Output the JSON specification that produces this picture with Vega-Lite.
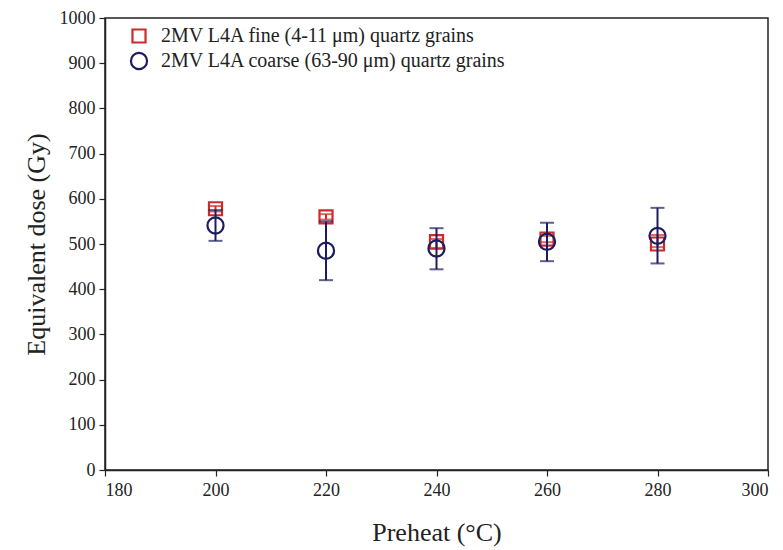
{
  "$schema": "https://vega.github.io/schema/vega-lite/v6.json",
  "autosize": "none",
  "width": 663,
  "height": 452,
  "padding": {"left": 105, "top": 18, "right": 15, "bottom": 80},
  "background": "white",
  "config": {
    "font": "Liberation Serif",
    "view": {"stroke": "#222", "strokeWidth": 1.5},
    "axis": {"grid": false, "domainColor": "#222", "domainWidth": 1.5, "tickColor": "#222", "tickWidth": 1.2, "tickSize": 6, "labelFont": "Liberation Serif", "labelFontSize": 18, "labelColor": "#222", "titleFont": "Liberation Serif", "titleFontSize": 26, "titleFontWeight": "normal", "titleColor": "#222"}
  },
  "data": {"values": [
    {"preheat": 200, "series": "2MV L4A fine (4-11 μm) quartz grains", "de": 578, "lo": 572, "hi": 584},
    {"preheat": 220, "series": "2MV L4A fine (4-11 μm) quartz grains", "de": 560, "lo": 554, "hi": 566},
    {"preheat": 240, "series": "2MV L4A fine (4-11 μm) quartz grains", "de": 505, "lo": 489, "hi": 511},
    {"preheat": 260, "series": "2MV L4A fine (4-11 μm) quartz grains", "de": 511, "lo": 504, "hi": 518},
    {"preheat": 280, "series": "2MV L4A fine (4-11 μm) quartz grains", "de": 500, "lo": 493, "hi": 520},
    {"preheat": 200, "series": "2MV L4A coarse (63-90 μm) quartz grains", "de": 541, "lo": 507, "hi": 575},
    {"preheat": 220, "series": "2MV L4A coarse (63-90 μm) quartz grains", "de": 485, "lo": 420, "hi": 550},
    {"preheat": 240, "series": "2MV L4A coarse (63-90 μm) quartz grains", "de": 490, "lo": 444, "hi": 535},
    {"preheat": 260, "series": "2MV L4A coarse (63-90 μm) quartz grains", "de": 505, "lo": 462, "hi": 547},
    {"preheat": 280, "series": "2MV L4A coarse (63-90 μm) quartz grains", "de": 518, "lo": 457, "hi": 580}
  ]},
  "encoding": {
    "x": {"field": "preheat", "type": "quantitative", "scale": {"domain": [180, 300], "nice": false, "zero": false}, "axis": {"values": [180, 200, 220, 240, 260, 280, 300], "title": "Preheat (°C)", "titlePadding": 20, "labelPadding": 5}}
  },
  "layer": [
    {
      "transform": [{"filter": "indexof(datum.series, 'fine') >= 0"}],
      "mark": {"type": "errorbar", "color": "#cc2b2b", "ticks": {"size": 14, "thickness": 2}, "rule": {"strokeWidth": 2}},
      "encoding": {
        "y": {"field": "lo", "type": "quantitative", "scale": {"domain": [0, 1000], "nice": false}, "title": "Equivalent dose (Gy)", "axis": {"values": [0, 100, 200, 300, 400, 500, 600, 700, 800, 900, 1000], "format": "d", "title": "Equivalent dose (Gy)", "titlePadding": 10, "labelPadding": 4}},
        "y2": {"field": "hi"}
      }
    },
    {
      "transform": [{"filter": "indexof(datum.series, 'fine') >= 0"}],
      "mark": {"type": "point", "filled": false, "strokeWidth": 2.2, "opacity": 1},
      "encoding": {
        "y": {"field": "de", "type": "quantitative", "title": "Equivalent dose (Gy)"},
        "color": {"field": "series", "type": "nominal", "scale": {"domain": ["2MV L4A fine (4-11 μm) quartz grains", "2MV L4A coarse (63-90 μm) quartz grains"], "range": ["#cc2b2b", "#1c1c5e"]},
          "legend": {"title": null, "orient": "none", "legendX": 24, "legendY": 8, "labelFont": "Liberation Serif", "labelFontSize": 20, "labelColor": "#222", "symbolStrokeWidth": 2.2, "symbolSize": 200, "rowPadding": 1, "labelOffset": 12, "labelLimit": 500}},
        "shape": {"field": "series", "type": "nominal", "scale": {"domain": ["2MV L4A fine (4-11 μm) quartz grains", "2MV L4A coarse (63-90 μm) quartz grains"], "range": ["square", "circle"]}},
        "size": {"field": "series", "type": "nominal", "scale": {"domain": ["2MV L4A fine (4-11 μm) quartz grains", "2MV L4A coarse (63-90 μm) quartz grains"], "range": [170, 260]}}
      }
    },
    {
      "transform": [{"filter": "indexof(datum.series, 'coarse') >= 0"}],
      "mark": {"type": "errorbar", "color": "#1c1c5e", "ticks": {"size": 14, "thickness": 2}, "rule": {"strokeWidth": 2}},
      "encoding": {
        "y": {"field": "lo", "type": "quantitative", "title": "Equivalent dose (Gy)"},
        "y2": {"field": "hi"}
      }
    },
    {
      "transform": [{"filter": "indexof(datum.series, 'coarse') >= 0"}],
      "mark": {"type": "point", "filled": false, "strokeWidth": 2.2, "opacity": 1},
      "encoding": {
        "y": {"field": "de", "type": "quantitative", "title": "Equivalent dose (Gy)"},
        "color": {"field": "series", "type": "nominal"},
        "shape": {"field": "series", "type": "nominal"},
        "size": {"field": "series", "type": "nominal"}
      }
    }
  ]
}
